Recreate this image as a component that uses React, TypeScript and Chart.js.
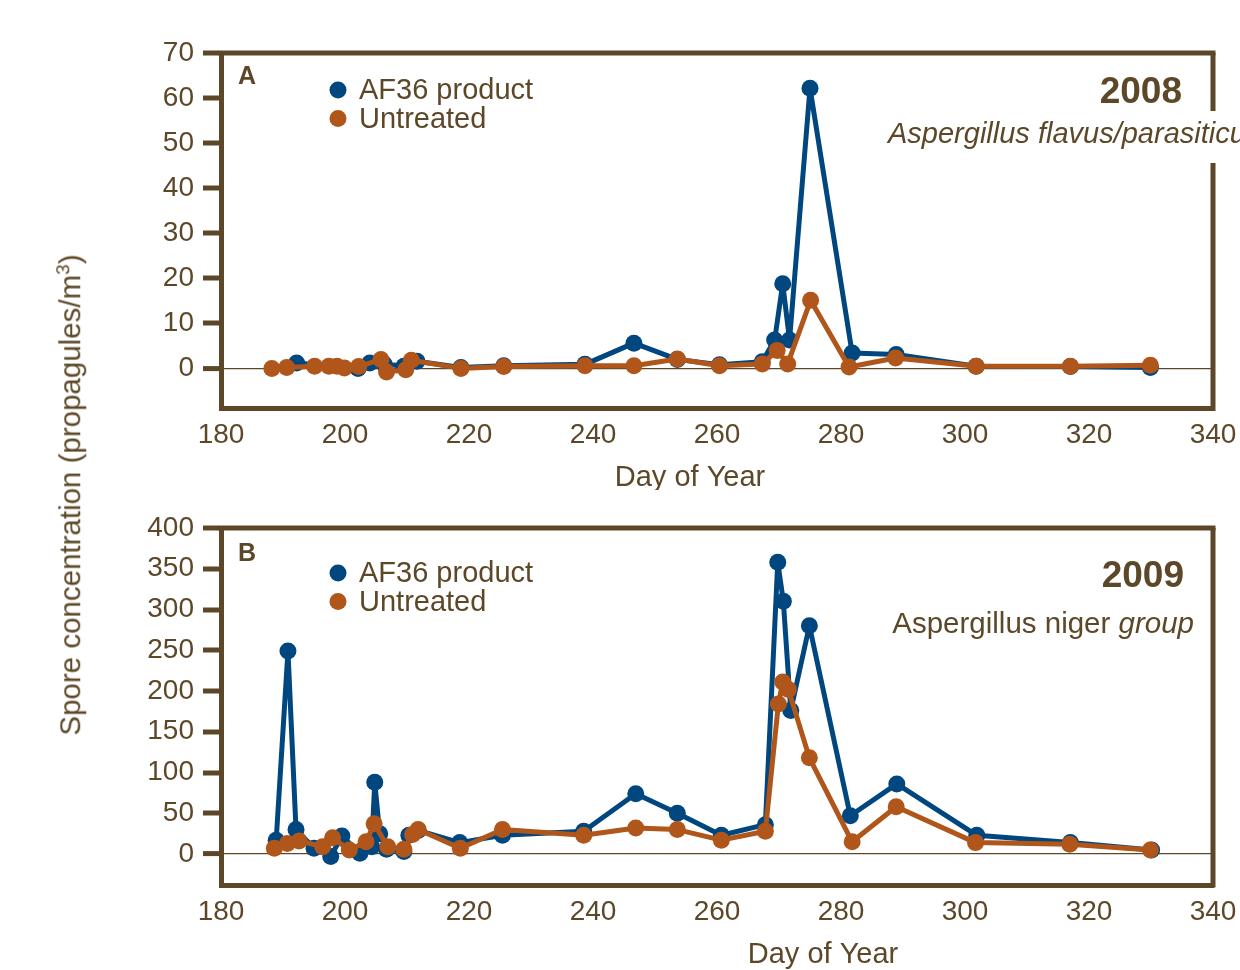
import React, { useEffect, useRef } from 'react';
import { Chart, registerables } from 'chart.js';

Chart.register(...registerables);

const BROWN = '#5c4828';
const BLUE = '#00467f';
const ORANGE = '#b0561b';
const FONT = '"Liberation Sans", Arial, Helvetica, sans-serif';

const X_TICKS = [180, 200, 220, 240, 260, 280, 300, 320, 340];
const A_Y_TICKS = [0, 10, 20, 30, 40, 50, 60, 70];
const B_Y_TICKS = [0, 50, 100, 150, 200, 250, 300, 350, 400];

const SERIES_LABELS = ['AF36 product', 'Untreated'];

// Panel A (2008) Aspergillus flavus/parasiticus
const A_AF36_DAYS = [192.2, 202.1, 204.0, 206.3, 209.5, 211.6, 218.7, 225.6, 238.7, 246.6, 253.6, 260.4, 267.3, 269.3, 270.6, 271.7, 275.0, 281.8, 288.9, 301.8, 317.0, 329.9];
const A_AF36_VALS = [1.2, 0, 1.2, 1.0, 0.5, 1.6, 0.2, 0.6, 0.9, 5.6, 2.0, 0.8, 1.5, 6.3, 18.8, 6.3, 62.2, 3.4, 3.1, 0.5, 0.4, 0.2];
const A_UNT_DAYS = [188.2, 190.6, 195.1, 197.4, 198.7, 199.9, 202.2, 205.8, 206.7, 209.8, 210.7, 218.7, 225.6, 238.7, 246.6, 253.6, 260.4, 267.3, 269.7, 271.4, 275.1, 281.3, 288.8, 301.8, 317.0, 329.9];
const A_UNT_VALS = [0, 0.2, 0.5, 0.5, 0.5, 0.1, 0.4, 2.0, -0.8, -0.3, 1.8, 0, 0.4, 0.6, 0.6, 2.1, 0.6, 1.0, 4.0, 1.0, 15.1, 0.3, 2.3, 0.5, 0.5, 0.7];

// Panel B (2009) Aspergillus niger group
const B_AF36_DAYS = [188.9, 190.8, 192.1, 195.0, 197.7, 199.5, 202.4, 204.3, 204.8, 205.6, 206.7, 209.5, 210.3, 211.8, 218.5, 225.4, 238.5, 246.9, 253.6, 260.7, 267.8, 269.8, 270.7, 271.9, 274.9, 281.5, 289.0, 301.9, 317.0, 330.1];
const B_AF36_VALS = [17, 249, 30, 7, -3, 22, 1, 9, 88, 25, 6, 3, 23, 29, 14, 23, 28, 74, 50, 23, 36, 358, 310, 176, 280, 47, 86, 23, 14, 5];
const B_UNT_DAYS = [188.6, 190.7, 192.6, 196.4, 198.0, 200.7, 203.4, 204.7, 206.9, 209.5, 210.9, 211.8, 218.6, 225.4, 238.5, 246.9, 253.6, 260.7, 267.8, 269.9, 270.6, 271.5, 274.9, 281.8, 288.9, 301.7, 316.9, 329.9];
const B_UNT_VALS = [7, 13, 16, 9, 20, 5, 15, 37, 9, 6, 24, 30, 7, 30, 23, 32, 30, 17, 28, 184, 211, 202, 118, 15, 58, 14, 12, 5];

const toPts = (xs: number[], ys: number[]) => xs.map((x, i) => ({ x, y: ys[i] }));

type PanelOpts = {
  height: number;
  top: number;
  bottom: number;
  yMin: number;
  yMax: number;
  yTicks: number[];
  af36: { x: number; y: number }[];
  unt: { x: number; y: number }[];
  letter: string;
  letterY: number;
  legendY: number;
  year: string;
  yearX: number;
  yearY: number;
  drawSub: (ctx: CanvasRenderingContext2D) => void;
  gap?: [number, number];
  xTitleX: number;
  xTitleY: number;
};

function makeChart(canvas: HTMLCanvasElement, p: PanelOpts) {
  const decor = {
    id: 'decor',
    afterDraw(chart: any) {
      const ctx: CanvasRenderingContext2D = chart.ctx;
      const a = chart.chartArea;
      ctx.save();
      ctx.strokeStyle = BROWN;
      ctx.lineWidth = 5;
      ctx.lineCap = 'butt';
      // top border
      ctx.beginPath();
      ctx.moveTo(a.left - 2.5, a.top);
      ctx.lineTo(a.right + 2.5, a.top);
      ctx.stroke();
      // right border
      ctx.beginPath();
      if (p.gap) {
        ctx.moveTo(a.right, a.top);
        ctx.lineTo(a.right, p.gap[0]);
        ctx.moveTo(a.right, p.gap[1]);
        ctx.lineTo(a.right, a.bottom + 2.5);
      } else {
        ctx.moveTo(a.right, a.top);
        ctx.lineTo(a.right, a.bottom + 2.5);
      }
      ctx.stroke();

      ctx.fillStyle = BROWN;
      ctx.textBaseline = 'middle';
      // panel letter
      ctx.font = `bold 25px ${FONT}`;
      ctx.textAlign = 'center';
      ctx.fillText(p.letter, 247, p.letterY);
      // legend
      const colors = [BLUE, ORANGE];
      SERIES_LABELS.forEach((lab, i) => {
        const y = p.legendY + i * 28.5;
        ctx.fillStyle = colors[i];
        ctx.beginPath();
        ctx.arc(338, y, 8.5, 0, Math.PI * 2);
        ctx.fill();
        ctx.fillStyle = BROWN;
        ctx.font = `29px ${FONT}`;
        ctx.textAlign = 'left';
        ctx.fillText(lab, 359, y + 1);
      });
      // year
      ctx.font = `bold 37px ${FONT}`;
      ctx.textAlign = 'right';
      ctx.fillText(p.year, p.yearX, p.yearY);
      p.drawSub(ctx);
      // x title
      ctx.fillStyle = BROWN;
      ctx.font = `29px ${FONT}`;
      ctx.textAlign = 'center';
      ctx.fillText('Day of Year', p.xTitleX, p.xTitleY);
      ctx.restore();
    },
  };

  const ds = (label: string, data: any, color: string, order: number) => ({
    label,
    data,
    borderColor: color,
    backgroundColor: color,
    pointBackgroundColor: color,
    pointBorderColor: color,
    borderWidth: 5,
    pointRadius: 8.5,
    pointBorderWidth: 0,
    borderJoinStyle: 'round',
    borderCapStyle: 'round',
    tension: 0,
    order,
  });

  return new Chart(canvas, {
    type: 'line',
    data: {
      datasets: [ds(SERIES_LABELS[0], p.af36, BLUE, 1), ds(SERIES_LABELS[1], p.unt, ORANGE, 0)],
    },
    options: {
      responsive: false,
      animation: false,
      events: [],
      layout: { padding: { top: p.top, right: 27, left: 0, bottom: 0 } },
      plugins: { legend: { display: false }, tooltip: { enabled: false }, title: { display: false } },
      scales: {
        x: {
          type: 'linear',
          min: 180,
          max: 340,
          afterFit: (s: any) => {
            s.height = p.height - p.bottom;
            s.paddingLeft = 0;
            s.paddingRight = 0;
          },
          afterBuildTicks: (s: any) => {
            s.ticks = X_TICKS.map((v) => ({ value: v }));
          },
          grid: { display: false, drawTicks: false },
          border: { display: true, color: BROWN, width: 5 },
          ticks: { color: BROWN, font: { family: FONT, size: 28 }, padding: 10, maxRotation: 0, autoSkip: false },
        },
        y: {
          type: 'linear',
          min: p.yMin,
          max: p.yMax,
          afterFit: (s: any) => {
            s.width = 221;
            s.paddingTop = 0;
            s.paddingBottom = 0;
          },
          afterBuildTicks: (s: any) => {
            s.ticks = p.yTicks.map((v) => ({ value: v }));
          },
          grid: {
            display: true,
            drawOnChartArea: true,
            drawTicks: true,
            tickLength: 18,
            tickColor: BROWN,
            tickWidth: 5,
            color: (c: any) => (c.tick && c.tick.value === 0 ? BROWN : 'rgba(0,0,0,0)'),
            lineWidth: (c: any) => (c.tick && c.tick.value === 0 ? 1.2 : 0),
          },
          border: { display: true, color: BROWN, width: 5 },
          ticks: { color: BROWN, font: { family: FONT, size: 28 }, padding: 9, autoSkip: false },
        },
      },
    },
    plugins: [decor],
  } as any);
}

export default function App() {
  const refA = useRef<HTMLCanvasElement>(null);
  const refB = useRef<HTMLCanvasElement>(null);

  useEffect(() => {
    const chartA = makeChart(refA.current!, {
      height: 490,
      top: 53,
      bottom: 408.5,
      yMin: -8.9,
      yMax: 70,
      yTicks: A_Y_TICKS,
      af36: toPts(A_AF36_DAYS, A_AF36_VALS),
      unt: toPts(A_UNT_DAYS, A_UNT_VALS),
      letter: 'A',
      letterY: 77,
      legendY: 90,
      year: '2008',
      yearX: 1182,
      yearY: 93,
      gap: [111, 163],
      drawSub: (ctx) => {
        ctx.fillStyle = BROWN;
        ctx.font = `italic 29px ${FONT}`;
        ctx.textAlign = 'left';
        ctx.fillText('Aspergillus flavus/parasiticus', 888, 135);
      },
      xTitleX: 690,
      xTitleY: 478,
    });
    const chartB = makeChart(refB.current!, {
      height: 480,
      top: 38,
      bottom: 395,
      yMin: -38,
      yMax: 400,
      yTicks: B_Y_TICKS,
      af36: toPts(B_AF36_DAYS, B_AF36_VALS),
      unt: toPts(B_UNT_DAYS, B_UNT_VALS),
      letter: 'B',
      letterY: 64,
      legendY: 83,
      year: '2009',
      yearX: 1184,
      yearY: 87,
      drawSub: (ctx) => {
        ctx.fillStyle = BROWN;
        ctx.textAlign = 'left';
        ctx.font = `italic 29.5px ${FONT}`;
        const w2 = ctx.measureText('group').width;
        ctx.font = `29.5px ${FONT}`;
        const w1 = ctx.measureText('Aspergillus niger ').width;
        const right = 1194;
        const x0 = right - w1 - w2;
        ctx.fillText('Aspergillus niger ', x0, 135);
        ctx.font = `italic 29.5px ${FONT}`;
        ctx.fillText('group', x0 + w1, 135);
      },
      xTitleX: 823,
      xTitleY: 465,
    });
    return () => {
      chartA.destroy();
      chartB.destroy();
    };
  }, []);

  return (
    <div style={{ position: 'absolute', left: 0, top: 0, width: 1240, height: 970, background: '#fff', overflow: 'hidden' }}>
      <canvas ref={refA} width={1240} height={490} style={{ position: 'absolute', left: 0, top: 0 }} />
      <canvas ref={refB} width={1240} height={480} style={{ position: 'absolute', left: 0, top: 490 }} />
      <div
        style={{
          position: 'absolute',
          left: 70,
          top: 495,
          transform: 'translate(-50%, -50%) rotate(-90deg)',
          whiteSpace: 'nowrap',
          fontFamily: FONT,
          fontSize: 29.5,
          color: BROWN,
          lineHeight: 1,
        }}
      >
        Spore concentration (propagules/m<sup style={{ fontSize: 19, verticalAlign: 'super', lineHeight: 0 }}>3</sup>)
      </div>
    </div>
  );
}
